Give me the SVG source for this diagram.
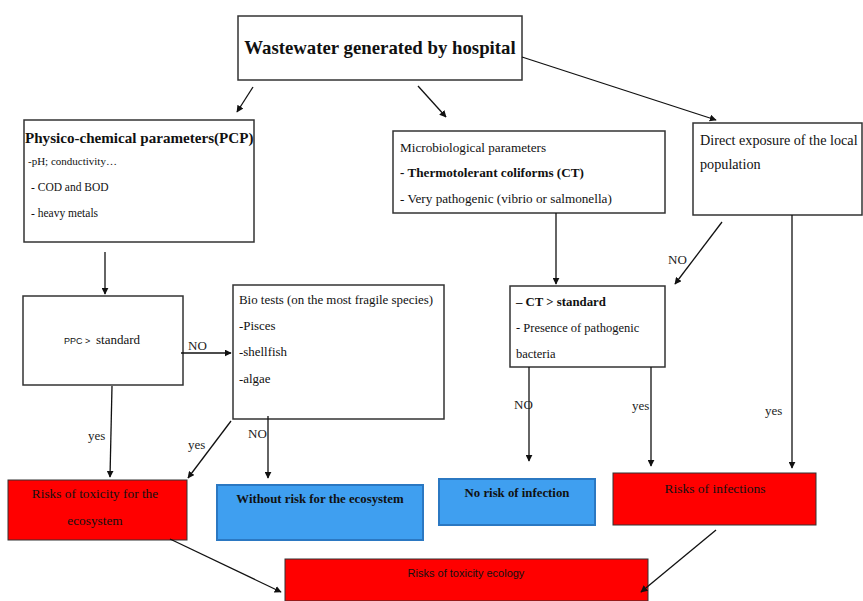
<svg xmlns="http://www.w3.org/2000/svg" width="863" height="601" viewBox="0 0 863 601">
<defs>
<marker id="ah" viewBox="0 0 10 10" refX="9" refY="5" markerWidth="7" markerHeight="7" orient="auto" markerUnits="userSpaceOnUse">
<path d="M0,0 L10,5 L0,10 z" fill="#111"/>
</marker>
</defs>
<style>
.box{fill:#fff;stroke:#333;stroke-width:1.5}
.red{fill:#ff0000;stroke:#333;stroke-width:1}
.blue{fill:#3f9ff0;stroke:#2b78c2;stroke-width:2}
.t{font-family:'Liberation Serif','DejaVu Serif','Times New Roman',serif;font-size:12px;fill:#111}
.b{font-weight:bold}
.lbl{font-family:'Liberation Serif','DejaVu Serif','Times New Roman',serif;font-size:13px;fill:#222}
.c line{stroke:#111;stroke-width:1.3;marker-end:url(#ah)}
.s{font-family:'Liberation Sans',Arial,sans-serif;font-size:11px;fill:#111}
</style>
<rect width="863" height="601" fill="#fff"/>

<g id="wastewater">
<rect class="box" x="238" y="16" width="284" height="64"/>
<text class="t b" x="380" y="54" text-anchor="middle" style="font-size:18.8px">Wastewater generated by hospital</text>
</g>

<g id="pcp">
<rect class="box" x="24" y="120" width="230" height="122"/>
<text class="t b" x="25" y="143" style="font-size:15.1px">Physico-chemical parameters(PCP)</text>
<text class="t" x="28" y="165" style="font-size:11px">-pH; conductivity…</text>
<text class="t" x="31" y="191" style="font-size:11.5px">- COD and BOD</text>
<text class="t" x="31" y="217" style="font-size:11.5px">- heavy metals</text>
</g>

<g id="micro">
<rect class="box" x="393" y="131" width="272" height="82"/>
<text class="t" x="400" y="152" style="font-size:13.2px">Microbiological parameters</text>
<text class="t" x="400" y="177" style="font-size:13.2px;font-weight:600">- Thermotolerant coliforms (CT)</text>
<text class="t" x="400" y="203" style="font-size:13.2px">- Very pathogenic (vibrio or salmonella)</text>
</g>

<g id="direct">
<rect class="box" x="693" y="123" width="169" height="92"/>
<text class="t" x="700" y="145" style="font-size:14.2px">Direct exposure of the local</text>
<text class="t" x="700" y="169" style="font-size:14.2px">population</text>
</g>

<g id="ppc">
<rect class="box" x="23" y="296" width="160" height="89"/>
<text class="s" x="64" y="344" style="font-size:9px">PPC &gt; </text>
<text class="t" x="96" y="344" style="font-size:13px">standard</text>
</g>

<g id="biotests">
<rect class="box" x="233" y="285" width="211" height="134"/>
<text class="t" x="239" y="304" style="font-size:12.9px">Bio tests (on the most fragile species)</text>
<text class="t" x="239" y="330" style="font-size:12.9px">-Pisces</text>
<text class="t" x="239" y="356" style="font-size:12.9px">-shellfish</text>
<text class="t" x="239" y="383" style="font-size:12.9px">-algae</text>
</g>

<g id="ct">
<rect class="box" x="510" y="286" width="155" height="81"/>
<text class="t b" x="516" y="306" style="font-size:12.8px">–  CT &gt;  standard</text>
<text class="t" x="516" y="332" style="font-size:12.5px">- Presence of pathogenic</text>
<text class="t" x="516" y="358" style="font-size:12.5px">bacteria</text>
</g>

<g id="risk-eco">
<rect class="red" x="8" y="480" width="179" height="60"/>
<text class="t" x="95" y="498" text-anchor="middle" style="font-size:13.3px">Risks of toxicity for the</text>
<text class="t" x="95" y="525" text-anchor="middle" style="font-size:13.3px">ecosystem</text>
</g>

<g id="without-risk">
<rect class="blue" x="217" y="485" width="206" height="55"/>
<text class="t b" x="320" y="503" text-anchor="middle" style="font-size:12.8px">Without risk for the ecosystem</text>
</g>

<g id="no-infection">
<rect class="blue" x="439" y="479" width="156" height="46"/>
<text class="t b" x="517" y="497" text-anchor="middle" style="font-size:12.8px">No risk of infection</text>
</g>

<g id="risk-infections">
<rect class="red" x="613" y="473" width="203" height="52"/>
<text class="t" x="715" y="493" text-anchor="middle" style="font-size:13.5px">Risks of infections</text>
</g>

<g id="risk-ecology">
<rect class="red" x="285" y="559" width="363" height="42"/>
<text class="s" x="466" y="577" text-anchor="middle">Risks of toxicity ecology</text>
</g>

<g id="connectors" class="c">
<line x1="253" y1="87" x2="237" y2="112"/>
<line x1="418" y1="86" x2="446" y2="117"/>
<line x1="522" y1="57" x2="716" y2="120"/>
<line x1="105" y1="252" x2="105" y2="294"/>
<line x1="181" y1="353" x2="231" y2="353"/>
<line x1="112" y1="386" x2="110" y2="477"/>
<line x1="231" y1="421" x2="188" y2="478"/>
<line x1="268" y1="416" x2="268" y2="478"/>
<line x1="556" y1="213" x2="556" y2="284"/>
<line x1="722" y1="222" x2="675" y2="284"/>
<line x1="529" y1="367" x2="529" y2="461"/>
<line x1="651" y1="367" x2="651" y2="466"/>
<line x1="792" y1="215" x2="792" y2="468"/>
<line x1="170" y1="539" x2="281" y2="592"/>
<line x1="716" y1="530" x2="641" y2="592"/>
</g>

<g id="labels">
<text class="lbl" x="188" y="350">NO</text>
<text class="lbl" x="88" y="440">yes</text>
<text class="lbl" x="188" y="449">yes</text>
<text class="lbl" x="248" y="438">NO</text>
<text class="lbl" x="668" y="264">NO</text>
<text class="lbl" x="514" y="409">NO</text>
<text class="lbl" x="632" y="410">yes</text>
<text class="lbl" x="765" y="415">yes</text>
</g>
</svg>
